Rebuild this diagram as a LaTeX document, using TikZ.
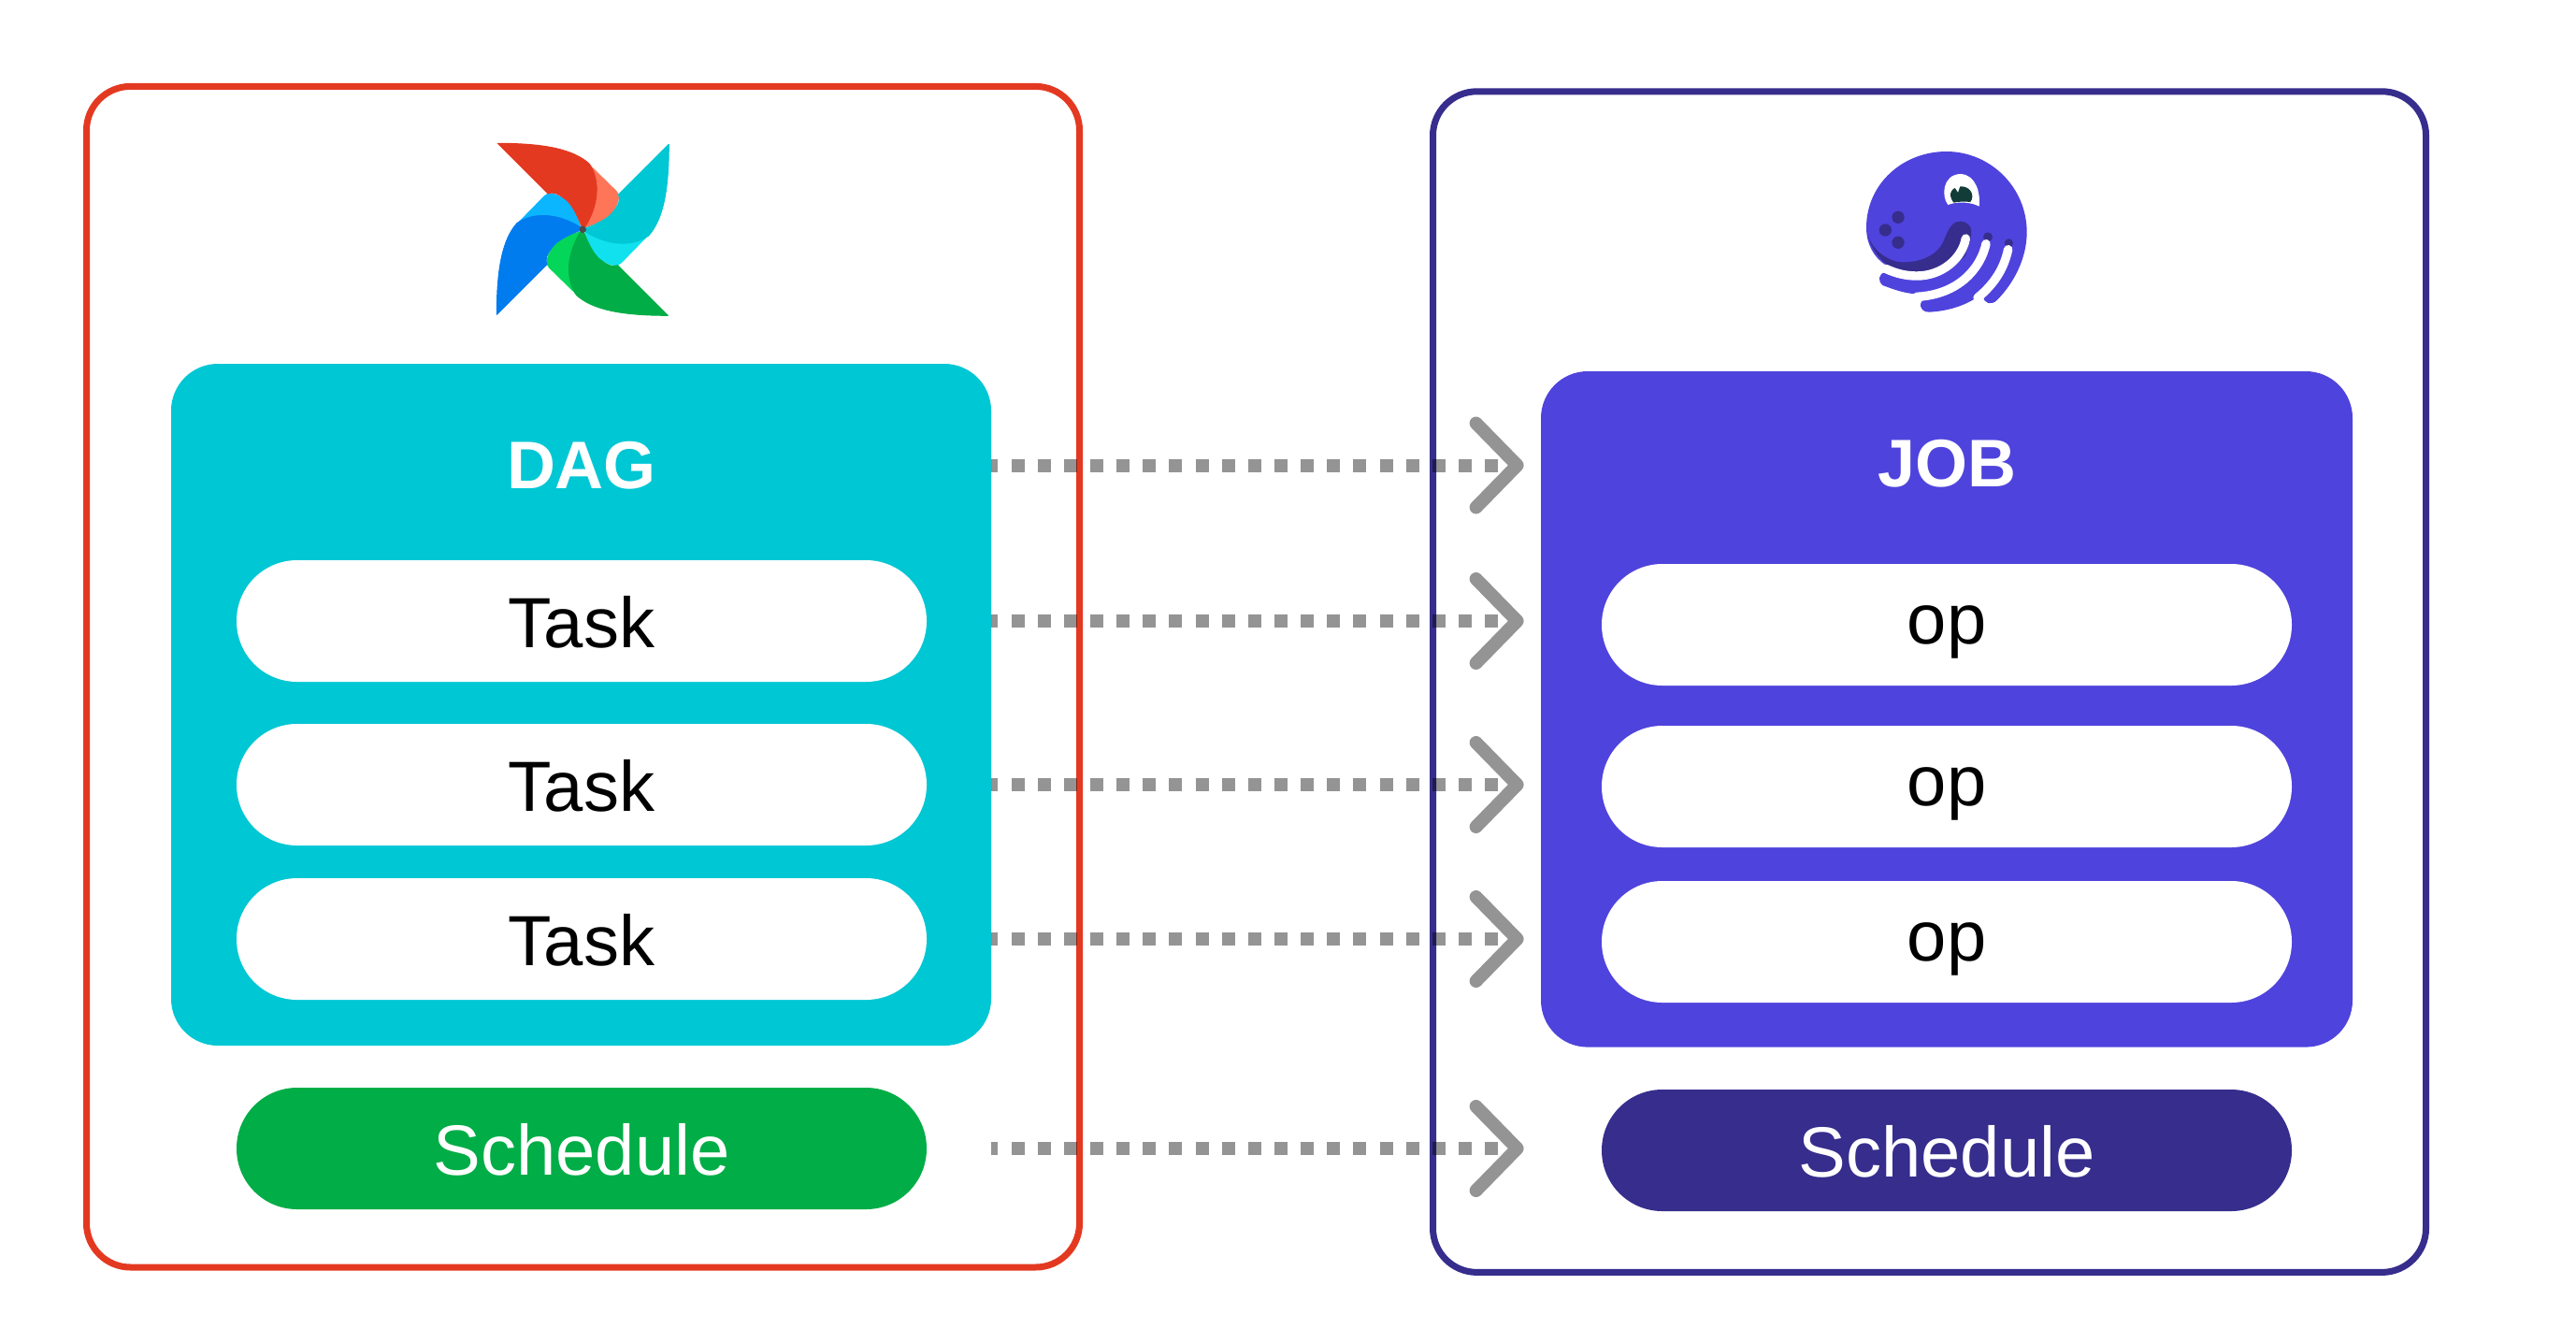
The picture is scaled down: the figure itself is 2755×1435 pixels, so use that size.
\documentclass[tikz,border=0pt]{standalone}
\usepackage{fontspec}
\setmainfont{Liberation Sans}
\usetikzlibrary{arrows.meta}
\definecolor{airred}{HTML}{E43921}
\definecolor{airsalmon}{HTML}{FF7557}
\definecolor{aircyan}{HTML}{00C7D4}
\definecolor{airaqua}{HTML}{11E1EE}
\definecolor{airgreen}{HTML}{00AD46}
\definecolor{airlime}{HTML}{04D659}
\definecolor{airblue}{HTML}{017CEE}
\definecolor{airsky}{HTML}{0CB6FF}
\definecolor{dagnavy}{HTML}{362D8D}
\definecolor{dagviolet}{HTML}{4F43DD}
\definecolor{eyegreen}{HTML}{123C38}
\tikzset{
    framebox/.style={draw, line width=3.5pt, rounded corners=23.5pt, minimum width=531pt, minimum height=631.3pt, inner sep=0pt},
    groupbox/.style={rounded corners=25pt, inner sep=0pt},
    pillbox/.style={rounded corners=32.4pt, minimum width=369pt, minimum height=65pt, inner sep=0pt, text height=28.2pt, text depth=0pt, font=\fontsize{38}{38}\selectfont},
    oppill/.style={pillbox, text depth=7.7pt},
    grouptitle/.style={text=white, inner sep=0pt, text height=26.5pt, text depth=0pt, font=\fontsize{36}{36}\selectfont\bfseries},
    maplink/.style={draw=black, draw opacity=.42, line width=7pt, dash pattern=on 7pt off 7.07pt, dash phase=3.5pt, shorten >=9pt,
        -{Straight Barb[round, length=22pt, width=45pt]}}
}
\begin{document}
\begin{tikzpicture}[x=.5pt, y=-.5pt]
    \useasboundingbox (0, 0) rectangle (2755, 1435);
    \node[framebox, draw=airred] (airflow) at (623.5, 723.7) {};
    \node[framebox, draw=dagnavy] (dagster) at (2063.5, 729.1) {};
    \node[groupbox, fill=aircyan, minimum width=438.5pt, minimum height=364.5pt] (dag) at (621.5, 753.5) {};
    \node[groupbox, fill=dagviolet, minimum width=434pt, minimum height=361.3pt] (job) at (2082, 758.3) {};
    \node[grouptitle] (dagtitle) at (622, 496) {DAG};
    \node[grouptitle] (jobtitle) at (2082, 494) {JOB};
    \foreach \name/\ty/\oy in {1/664/668, 2/839/841, 3/1004/1007} {
        \node[pillbox, fill=white] (task\name) at (622, \ty) {Task};
        \node[oppill, fill=white] (op\name) at (2082, \oy) {op};
    }
    \node[pillbox, fill=airgreen, text=white] (airschedule) at (622, 1228) {Schedule};
    \node[pillbox, fill=dagnavy, text=white] (dagschedule) at (2082, 1230) {Schedule};
    \coordinate (titlelink) at (dag.east |- 0, 497.5);
    \draw[maplink] (titlelink) -- (job.west |- titlelink);
    \foreach \name in {1, 2, 3} {
        \draw[maplink] (dag.east |- task\name) -- (job.west |- task\name);
    }
    \draw[maplink] (dag.east |- airschedule) -- (job.west |- airschedule);
    \foreach \ang/\dark/\light in {0/airred/airsalmon, -90/aircyan/airaqua, -180/airgreen/airlime, -270/airblue/airsky} {
        \begin{scope}[shift={(623.3, 245.3)}, rotate=\ang, scale=1/3]
            \fill[\light] (22, -208) -- (108, -124) .. controls (120, -112) and (120, -95) .. (100, -60)
                .. controls (85, -35) and (40, -15) .. (5, -5) -- (0, 0) -- cycle;
        \end{scope}
    }
    \foreach \ang/\dark/\light in {0/airred/airsalmon, -90/aircyan/airaqua, -180/airgreen/airlime, -270/airblue/airsky} {
        \begin{scope}[shift={(623.3, 245.3)}, rotate=\ang, scale=1/3]
            \filldraw[fill=\dark, draw=\dark, line width=.5pt, line join=round] (-273, -276) .. controls (-120, -276) and (-30, -256) .. (20, -211)
                .. controls (50, -170) and (60, -90) .. (5, -5) -- (0, 0)
                .. controls (-15, -40) and (-35, -85) .. (-60, -100)
                .. controls (-80, -115) and (-95, -122) .. (-112, -115) -- cycle;
        \end{scope}
    }
    \fill[black!70] (623.3, 245.3) circle (3.7);
    \begin{scope}[shift={(1970, 140)}, scale=1/3]
        \fill[dagviolet] (78, 310) .. controls (78, 170) and (195, 66) .. (335, 66)
            .. controls (475, 66) and (593, 180) .. (593, 325)
            .. controls (593, 410) and (550, 490) .. (497, 543)
            .. controls (480, 560) and (455, 555) .. (453, 530)
            -- (445, 525) .. controls (400, 560) and (340, 578) .. (280, 581)
            .. controls (250, 583) and (240, 545) .. (270, 539) -- (250, 522)
            .. controls (210, 525) and (170, 510) .. (130, 495)
            .. controls (115, 485) and (115, 455) .. (140, 454) -- (160, 440) -- (140, 430)
            .. controls (100, 405) and (78, 360) .. (78, 310) -- cycle;
        \fill[dagnavy] (380, 290) .. controls (350, 290) and (340, 320) .. (325, 355)
            .. controls (300, 410) and (230, 425) .. (180, 420)
            .. controls (130, 410) and (90, 370) .. (80, 325)
            .. controls (95, 400) and (160, 458) .. (225, 458)
            .. controls (300, 458) and (370, 430) .. (395, 400)
            -- (412, 350) -- (415, 322) .. controls (415, 305) and (400, 290) .. (380, 290) -- cycle;
        \fill[dagnavy] (180, 277) circle (20) (139, 318) circle (20) (180, 358) circle (20)
            (468, 340) circle (15) (535, 360) circle (14);
        \draw[white, line width=4.7pt, line cap=round] (397, 345) .. controls (385, 410) and (320, 465) .. (240, 465)
            .. controls (205, 465) and (175, 458) .. (140, 442);
        \draw[white, line width=4.7pt, line cap=round] (462, 362) .. controls (445, 440) and (375, 525) .. (240, 532);
        \draw[white, line width=4.7pt, line cap=round] (533, 380) .. controls (520, 440) and (490, 490) .. (435, 535);
        \fill[white] (340, 237) .. controls (318, 210) and (322, 140) .. (380, 138)
            .. controls (430, 140) and (445, 200) .. (440, 242)
            .. controls (415, 228) and (370, 225) .. (340, 237) -- cycle;
        \fill[eyegreen] (358, 230) .. controls (335, 200) and (355, 178) .. (383, 178)
            .. controls (410, 178) and (428, 205) .. (412, 228)
            .. controls (395, 226) and (375, 226) .. (358, 230) -- cycle;
        \fill[white] (358, 176) -- (372, 197) -- (380, 174) -- cycle;
    \end{scope}
\end{tikzpicture}
\end{document}
